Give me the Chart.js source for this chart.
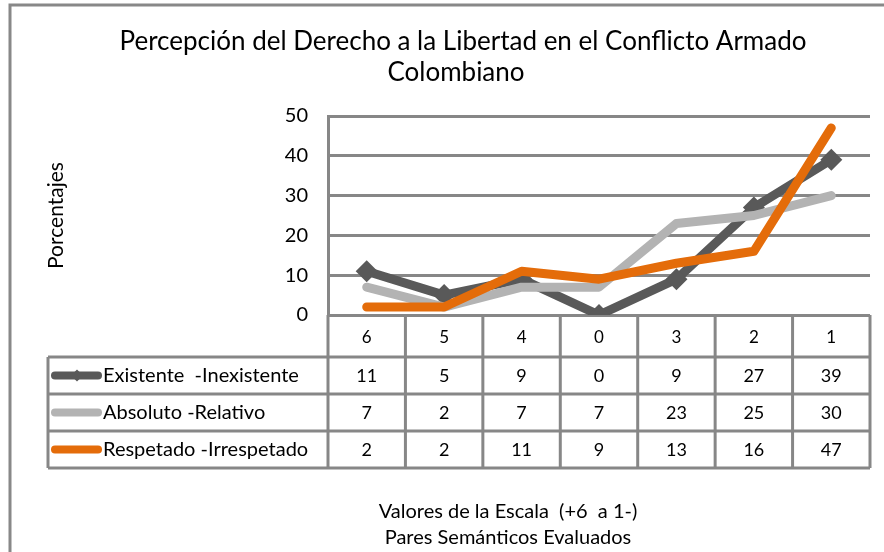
<!DOCTYPE html>
<html>
<head>
<meta charset="utf-8">
<script src="https://cdn.jsdelivr.net/npm/chart.js@4.4.1/dist/chart.umd.min.js"></script>
<style>
  body { margin: 0; background: #fff; }
  #wrap { width: 884px; height: 552px; }
</style>
</head>
<body>
<div id="wrap"><canvas id="libertadChart" width="884" height="552"></canvas></div>
<script>
'use strict';

// Valores de la escala (columnas de la tabla)
const scaleLabels = ['6', '5', '4', '0', '3', '2', '1'];
const seriesNames = ['Existente  -Inexistente', 'Absoluto -Relativo', 'Respetado -Irrespetado'];
const existente = [11, 5, 9, 0, 9, 27, 39];
const absoluto = [7, 2, 7, 7, 23, 25, 30];
const respetado = [2, 2, 11, 9, 13, 16, 47];
const yTicks = [0, 10, 20, 30, 40, 50];

const titleLines = ['Percepción del Derecho a la Libertad en el Conflicto Armado', 'Colombiano'];
const xTitleLines = ['Valores de la Escala  (+6  a 1-)', 'Pares Semánticos Evaluados'];

const FONT = 'Lato, "Open Sans", sans-serif';
const GRID = '#878787';
const colors = ['#595959', '#b3b3b3', '#e46c0a'];

// Draws frame, title, data table and x title
const tablePlugin = {
    id: 'dataTable',
    afterDraw(chart) {
        const ctx = chart.ctx;
        const area = chart.chartArea;
        const x = chart.scales.x;
        const colW = (area.right - area.left) / scaleLabels.length;
        const headerH = 42;
        const rowH = 37;
        const legendLeft = 48;
        const rows = [existente, absoluto, respetado];
        const tableBottom = area.bottom + headerH + rowH * rows.length;

        ctx.save();

        // outer frame
        ctx.strokeStyle = '#888888';
        ctx.lineWidth = 3;
        ctx.beginPath();
        ctx.moveTo(10, 552);
        ctx.lineTo(10, 5);
        ctx.lineTo(884, 5);
        ctx.stroke();

        // title
        ctx.fillStyle = '#000';
        ctx.textAlign = 'center';
        ctx.textBaseline = 'middle';
        ctx.font = '26px ' + FONT;
        ctx.fillText(titleLines[0], 463, 42);
        ctx.fillText(titleLines[1], 456, 73);

        // table grid
        ctx.strokeStyle = GRID;
        ctx.lineWidth = 3;
        ctx.beginPath();
        for (let i = 0; i <= scaleLabels.length; i++) {
            const cx = area.left + i * colW;
            ctx.moveTo(cx, area.bottom);
            ctx.lineTo(cx, tableBottom);
        }
        ctx.moveTo(legendLeft, area.bottom + headerH);
        ctx.lineTo(legendLeft, tableBottom);
        for (let r = 0; r <= rows.length; r++) {
            const ry = area.bottom + headerH + r * rowH;
            ctx.moveTo(legendLeft, ry);
            ctx.lineTo(area.right, ry);
        }
        ctx.stroke();

        // header labels
        ctx.font = '17px ' + FONT;
        ctx.fillStyle = '#000';
        scaleLabels.forEach((lab, i) => {
            ctx.fillText(lab, x.getPixelForValue(i), area.bottom + headerH / 2 + 2);
        });

        // rows
        rows.forEach((vals, r) => {
            const cy = area.bottom + headerH + r * rowH + rowH / 2;
            ctx.font = '18px ' + FONT;
            ctx.textAlign = 'center';
            vals.forEach((v, i) => {
                ctx.fillText(String(v), x.getPixelForValue(i), cy + 1);
            });

            // legend key
            ctx.strokeStyle = colors[r];
            ctx.lineWidth = 8;
            ctx.lineCap = 'round';
            ctx.beginPath();
            ctx.moveTo(55, cy);
            ctx.lineTo(98, cy);
            ctx.stroke();
            if (r === 0) {
                ctx.fillStyle = colors[r];
                ctx.beginPath();
                ctx.moveTo(77, cy - 6);
                ctx.lineTo(83, cy);
                ctx.lineTo(77, cy + 6);
                ctx.lineTo(71, cy);
                ctx.closePath();
                ctx.fill();
            }
            ctx.fillStyle = '#000';
            ctx.textAlign = 'left';
            ctx.font = '20px ' + FONT;
            ctx.fillText(seriesNames[r], 103, cy);
        });

        // x axis title
        ctx.textAlign = 'center';
        ctx.font = '20px ' + FONT;
        ctx.fillText(xTitleLines[0], 508, 512);
        ctx.fillText(xTitleLines[1], 508, 538);

        ctx.restore();
    }
};

const lineStyle = {
    borderWidth: 9,
    borderCapStyle: 'round',
    borderJoinStyle: 'round',
    tension: 0,
    fill: false
};

new Chart(document.getElementById('libertadChart'), {
    type: 'line',
    data: {
        labels: scaleLabels,
        datasets: [{
            ...lineStyle,
            label: seriesNames[0],
            data: existente,
            borderColor: colors[0],
            backgroundColor: colors[0],
            pointStyle: 'rectRot',
            pointRadius: 11,
            pointBorderWidth: 0,
            order: 3
        }, {
            ...lineStyle,
            label: seriesNames[1],
            data: absoluto,
            borderColor: colors[1],
            pointRadius: 0,
            order: 2
        }, {
            ...lineStyle,
            label: seriesNames[2],
            data: respetado,
            borderColor: colors[2],
            pointRadius: 0,
            order: 1
        }]
    },
    options: {
        responsive: false,
        animation: false,
        layout: {
            padding: { top: 116, right: 14, bottom: 237, left: 0 }
        },
        scales: {
            x: {
                display: false,
                offset: true
            },
            y: {
                min: 0,
                max: 50,
                afterBuildTicks: (scale) => {
                    scale.ticks = yTicks.map(v => ({ value: v }));
                },
                afterFit: (scale) => {
                    scale.width = 328;
                },
                grid: {
                    color: GRID,
                    lineWidth: 3,
                    drawTicks: false
                },
                border: {
                    color: GRID,
                    width: 3
                },
                ticks: {
                    padding: 20,
                    color: '#000',
                    font: { family: FONT, size: 20 }
                },
                title: {
                    display: true,
                    text: 'Porcentajes',
                    color: '#000',
                    font: { family: FONT, size: 21 },
                    padding: { top: 44, bottom: 0 }
                }
            }
        },
        plugins: {
            legend: { display: false },
            tooltip: { enabled: false }
        }
    },
    plugins: [tablePlugin]
});
</script>
</body>
</html>
